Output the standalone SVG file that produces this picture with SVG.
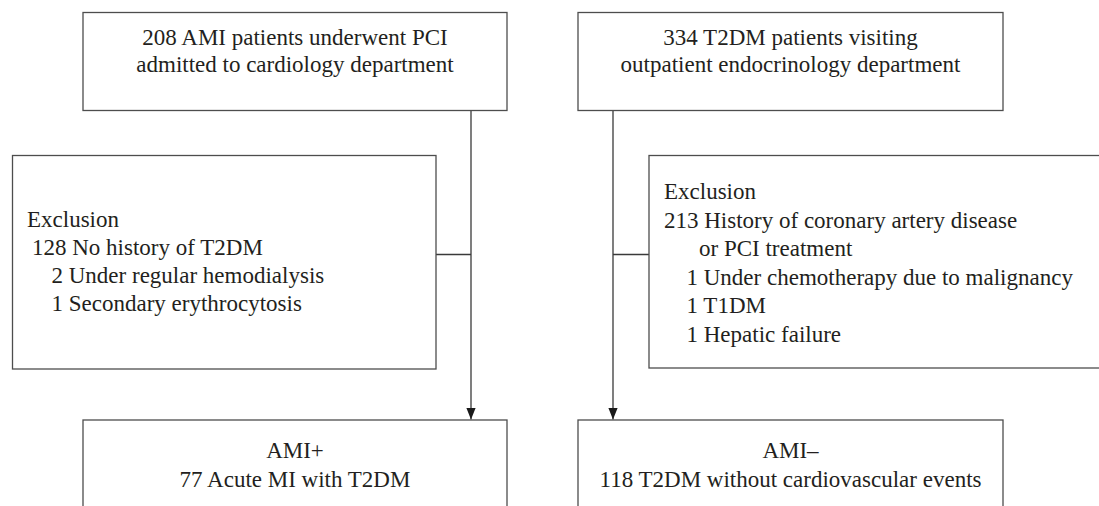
<svg xmlns="http://www.w3.org/2000/svg" width="1099" height="506" viewBox="0 0 1099 506">
  <style>
    .box { fill: #ffffff; stroke: #4d4d4d; stroke-width: 1.3; }
    .line { fill: none; stroke: #3a3a3a; stroke-width: 1.3; }
    text { font-family: "Liberation Serif", "Times New Roman", serif; font-size: 23px; fill: #231f20; }
    .c { text-anchor: middle; }
  </style>
  <defs>
    <marker id="arrow" markerWidth="12" markerHeight="15" refX="15" refY="6" orient="auto" markerUnits="userSpaceOnUse" viewBox="0 0 15 12">
      <path d="M0,0 L15,6 L0,12 Z" fill="#1a1a1a"/>
    </marker>
  </defs>

  <rect width="1099" height="506" fill="#ffffff"/>

  <!-- connectors -->
  <g id="connectors">
    <line class="line" x1="471" y1="110.5" x2="471" y2="419.5" marker-end="url(#arrow)"/>
    <line class="line" x1="436" y1="254.5" x2="471" y2="254.5"/>
    <line class="line" x1="613" y1="110.5" x2="613" y2="419.5" marker-end="url(#arrow)"/>
    <line class="line" x1="613" y1="254.5" x2="649" y2="254.5"/>
  </g>

  <!-- AMI cohort source -->
  <g id="node-ami-source">
    <rect class="box" x="83" y="12.5" width="424" height="98"/>
    <text class="c" x="295" y="45">208 AMI patients underwent PCI</text>
    <text class="c" x="295" y="71.5">admitted to cardiology department</text>
  </g>

  <!-- T2DM cohort source -->
  <g id="node-t2dm-source">
    <rect class="box" x="578" y="12.5" width="425" height="98"/>
    <text class="c" x="790.5" y="45">334 T2DM patients visiting</text>
    <text class="c" x="790.5" y="71.5">outpatient endocrinology department</text>
  </g>

  <!-- exclusions, AMI side -->
  <g id="node-ami-exclusion">
    <rect class="box" x="12.5" y="155.5" width="423.5" height="213.5"/>
    <text x="27" y="227">Exclusion</text>
    <text x="32" y="255">128 No history of T2DM</text>
    <text x="51.5" y="283">2 Under regular hemodialysis</text>
    <text x="51.5" y="311">1 Secondary erythrocytosis</text>
  </g>

  <!-- exclusions, T2DM side -->
  <g id="node-t2dm-exclusion">
    <rect class="box" x="649" y="155.5" width="460" height="212.5"/>
    <text x="664" y="199">Exclusion</text>
    <text x="664" y="227.5">213 History of coronary artery disease</text>
    <text x="699" y="256">or PCI treatment</text>
    <text x="686.5" y="284.5">1 Under chemotherapy due to malignancy</text>
    <text x="686.5" y="313">1 T1DM</text>
    <text x="686.5" y="341.5">1 Hepatic failure</text>
  </g>

  <!-- AMI+ group -->
  <g id="node-ami-plus">
    <rect class="box" x="83" y="420" width="424" height="110"/>
    <text class="c" x="295" y="458">AMI+</text>
    <text class="c" x="295" y="487">77 Acute MI with T2DM</text>
  </g>

  <!-- AMI- group -->
  <g id="node-ami-minus">
    <rect class="box" x="578" y="420" width="425" height="110"/>
    <text class="c" x="790.5" y="458">AMI–</text>
    <text class="c" x="790.5" y="487">118 T2DM without cardiovascular events</text>
  </g>
</svg>
